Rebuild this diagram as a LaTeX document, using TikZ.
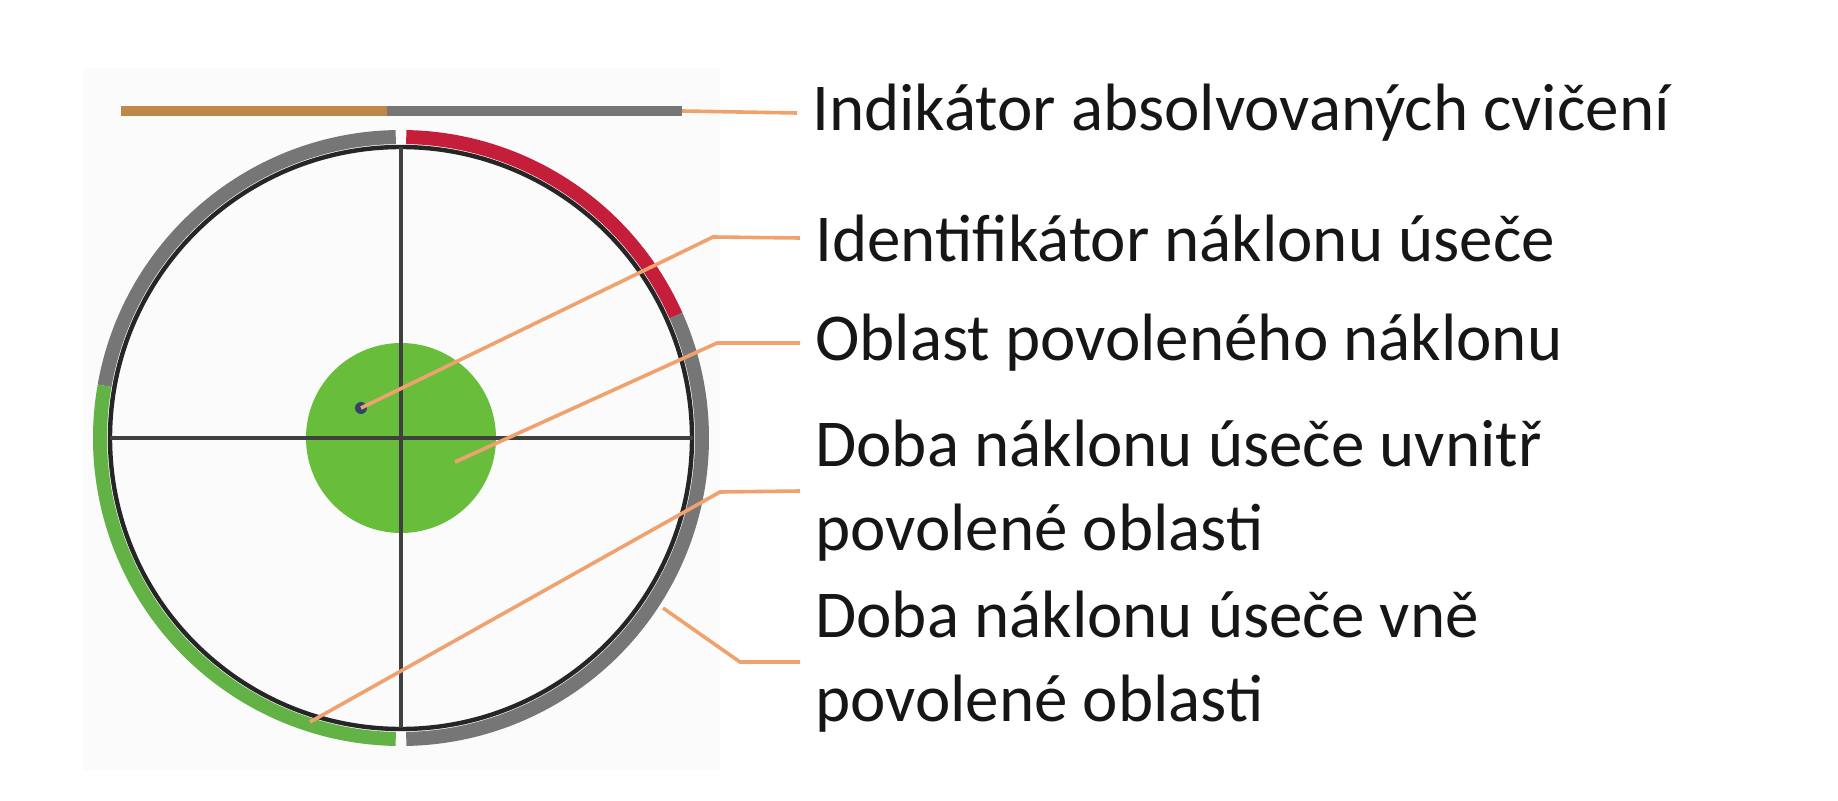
\documentclass[tikz,border=0pt]{standalone}
\usepackage{fontspec}
\setmainfont{Carlito}
\definecolor{ringgray}{RGB}{118,118,118}
\definecolor{ringred}{RGB}{196,30,58}
\definecolor{ringgreen}{RGB}{98,178,70}
\definecolor{discgreen}{RGB}{104,190,58}
\definecolor{barorange}{RGB}{190,136,72}
\definecolor{leadorange}{RGB}{240,162,110}
\definecolor{dotblue}{RGB}{52,66,104}
\definecolor{textdark}{RGB}{22,22,22}

\begin{document}
\begin{tikzpicture}[x=0.5pt,y=0.5pt,
    leader/.style={draw=leadorange,line width=1.8pt},
    ring/.style={line width=7pt},
    label text/.style={anchor=west,inner xsep=7.5pt,inner ysep=0pt,align=left,
      text=textdark,font=\fontsize{33.5}{42}\selectfont}]
    \useasboundingbox (0,0) rectangle (1838,800);
    \def\Mid{(401,362)}
    \fill[black!1.5] (83,30) rectangle (720,732);

    % indicator bar
    \coordinate (barL) at (121,689);
    \coordinate (barM) at (387,689);
    \coordinate (barR) at (682,689);
    \draw[barorange,line width=5pt] (barL) -- (barM);
    \draw[ringgray,line width=5pt] (barM) -- (barR);

    % tilt circle
    \fill[discgreen] \Mid circle (95);
    \draw[black!85,line width=2.2pt] \Mid circle (291);
    \draw[black!75,line width=2pt] (110,362) -- (693,362);
    \draw[black!75,line width=2pt] (401,653) -- (401,72);
    \draw[ring,ringred] ([shift={(24:301)}]401,362) arc[start angle=24,end angle=89,radius=301];
    \draw[ring,ringgray] ([shift={(91:301)}]401,362) arc[start angle=91,end angle=170,radius=301];
    \draw[ring,ringgreen] ([shift={(170:301)}]401,362) arc[start angle=170,end angle=269,radius=301];
    \draw[ring,ringgray] ([shift={(271:301)}]401,362) arc[start angle=271,end angle=384,radius=301];
    \fill[dotblue] (361,392) circle (6);

    % labels
    \node[label text] (indik) at (797,687) {Indikátor absolvovaných cvičení};
    \node[label text] (ident) at (800,562) {Identifikátor náklonu úseče};
    \node[label text] (oblast) at (800,457) {Oblast povoleného náklonu};
    \node[label text] (uvnitr) at (800,309) {Doba náklonu úseče uvnitř\\povolené oblasti};
    \node[label text] (vne) at (800,138) {Doba náklonu úseče vně\\povolené oblasti};

    % leaders
    \coordinate (dot) at (361,392);
    \coordinate (inDisc) at (455,338);
    \coordinate (onGreen) at (310,78);
    \coordinate (onGray) at (663,192);
    \draw[leader] (barR) -- (indik.west);
    \draw[leader] (dot) -- (713,563) -- (ident.west);
    \draw[leader] (inDisc) -- (717,457) -- (oblast.west);
    \draw[leader] (onGreen) -- (720,308) -- (uvnitr.west);
    \draw[leader] (onGray) -- (740,138) -- (vne.west);
\end{tikzpicture}
\end{document}
